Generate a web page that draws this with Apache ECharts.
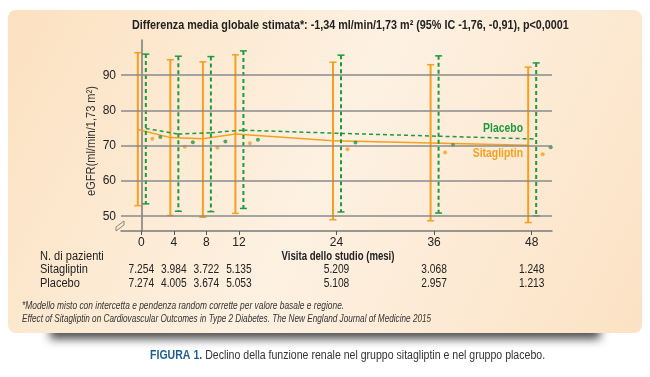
<!DOCTYPE html>
<html>
<head>
<meta charset="utf-8">
<script src="https://cdn.jsdelivr.net/npm/echarts@6/dist/echarts.min.js"></script>
<style>
  html, body { margin: 0; padding: 0; background: #fff; }
  #chart { width: 650px; height: 377px; }
</style>
</head>
<body>
<div id="chart"></div>
<script>
// mesi di visita
const months = [0, 4, 8, 12, 24, 36, 48]
const yTicks = [50, 60, 70, 80, 90]

// Sitagliptin: media stimata, intervallo, valori osservati
const sitaMean = [74.6, 72.3, 72.0, 73.3, 71.4, 70.8, 70.1]
const sitaHigh = [96.4, 94.4, 93.8, 95.8, 93.7, 93.0, 92.3]
const sitaLow = [53.0, 50.2, 49.7, 50.8, 49.0, 48.7, 48.2]
const sitaObs = [72.0, 69.7, 69.4, 70.7, 69.0, 68.1, 67.6]

// Placebo
const placMean = [74.9, 73.3, 73.7, 74.4, 73.5, 72.7, 71.9]
const placHigh = [96.0, 95.4, 95.3, 96.9, 95.7, 95.5, 93.5]
const placLow = [53.5, 51.4, 51.3, 52.2, 51.2, 50.9, 50.1]
const placObs = [72.5, 71.0, 71.2, 71.7, 70.9, 70.2, 69.6]

// N. di pazienti
const sitaN = ['7.254', '3.984', '3.722', '5.135', '5.209', '3.068', '1.248']
const placN = ['7.274', '4.005', '3.674', '5.053', '5.108', '2.957', '1.213']

const ORANGE = '#f5a01e'
const GREEN = '#1e9a3e'
const FONT = '"Liberation Sans", Arial, sans-serif'

const chart = echarts.init(document.getElementById('chart'))

// testo "condensato": font normale schiacciato in orizzontale
function ct(text, x, y, o) {
  o = o || {}
  return {
    type: 'text',
    z: 10,
    x: x,
    y: y,
    rotation: o.rotation || 0,
    scaleX: o.scale || 0.8,
    style: {
      x: 0, y: 0,
      text: text,
      fontFamily: FONT,
      fontSize: o.size || 12,
      fontWeight: o.bold ? 'bold' : 'normal',
      fontStyle: o.italic ? 'italic' : 'normal',
      fill: o.color || '#222',
      align: o.align || 'left',
      verticalAlign: 'middle',
      rich: o.rich
    }
  }
}

// barre d'errore + linea della media (spostate di qualche px rispetto al tick)
function errBars(color, dash, offset, means) {
  return function (params, api) {
    const i = params.dataIndex
    const m = api.value(0)
    const top = api.coord([m, api.value(2)])
    const bot = api.coord([m, api.value(1)])
    const x = top[0] + offset
    const style = { stroke: color, lineWidth: 2, lineDash: dash }
    const kids = [
      { type: 'line', shape: { x1: x, y1: top[1], x2: x, y2: bot[1] }, style: style },
      { type: 'line', shape: { x1: x - 3.5, y1: top[1], x2: x + 3.5, y2: top[1] }, style: { stroke: color, lineWidth: 1.5 } },
      { type: 'line', shape: { x1: x - 3.5, y1: bot[1], x2: x + 3.5, y2: bot[1] }, style: { stroke: color, lineWidth: 1.5 } }
    ]
    if (i < months.length - 1) {
      const a = api.coord([m, means[i]])
      const b = api.coord([months[i + 1], means[i + 1]])
      kids.push({
        type: 'line',
        shape: { x1: a[0] + offset, y1: a[1], x2: b[0] + offset, y2: b[1] },
        style: { stroke: color, lineWidth: 1.5, lineDash: dash }
      })
    }
    return { type: 'group', children: kids }
  }
}

const option = {
  backgroundColor: '#ffffff',
  animation: false,
  grid: { left: 121, right: 98, top: 40, bottom: 146 },
  xAxis: {
    type: 'value',
    min: -2.5,
    max: 50.5,
    axisLine: { show: true, lineStyle: { color: '#7a7a7a', width: 1.5 } },
    axisTick: { show: true, customValues: months, length: 4, lineStyle: { color: '#555' } },
    axisLabel: { customValues: months, fontFamily: FONT, fontSize: 12, color: '#222', margin: 6 },
    splitLine: { show: false }
  },
  yAxis: {
    type: 'value',
    min: 45.8,
    max: 100,
    axisLine: { show: true, lineStyle: { color: '#7a7a7a', width: 1.5 } },
    axisTick: { show: false },
    axisLabel: { customValues: yTicks, fontFamily: FONT, fontSize: 12, color: '#222', margin: 5 },
    splitLine: { show: false }
  },
  series: [
    {
      type: 'scatter',
      name: 'Sitagliptin oss.',
      data: months.map((m, i) => [m, sitaObs[i]]),
      symbolSize: 4,
      symbolOffset: [11, 0],
      itemStyle: { color: ORANGE },
      z: 4,
      markLine: {
        silent: true,
        symbol: ['none', 'none'],
        label: { show: false },
        lineStyle: { color: '#8a8a8a', width: 1.5, type: 'solid' },
        data: yTicks.map(v => ({ yAxis: v }))
      }
    },
    {
      type: 'scatter',
      name: 'Placebo oss.',
      data: months.map((m, i) => [m, placObs[i]]),
      symbolSize: 4,
      symbolOffset: [19, 0],
      itemStyle: { color: GREEN },
      z: 4
    },
    {
      type: 'custom',
      name: 'Sitagliptin',
      renderItem: errBars(ORANGE, null, -3.5, sitaMean),
      data: months.map((m, i) => [m, sitaLow[i], sitaHigh[i]]),
      z: 3
    },
    {
      type: 'custom',
      name: 'Placebo',
      renderItem: errBars(GREEN, [4, 3], 4.5, placMean),
      data: months.map((m, i) => [m, placLow[i], placHigh[i]]),
      z: 3
    },
    {
      // numeri di pazienti sotto l'asse
      type: 'custom',
      name: 'N',
      silent: true,
      renderItem: function (params, api) {
        const i = params.dataIndex
        const x = api.coord([api.value(0), 50])[0]
        return {
          type: 'group',
          children: [
            ct(sitaN[i], x, 270, { align: 'center', scale: 0.85 }),
            ct(placN[i], x, 284, { align: 'center', scale: 0.85 })
          ]
        }
      },
      data: months.map(m => [m]),
      z: 3
    }
  ],
  graphic: [
    {
      type: 'rect',
      z: -20,
      shape: { x: 50, y: 318, width: 550, height: 15 },
      style: { fill: '#666', shadowBlur: 10, shadowOffsetY: 6, shadowColor: 'rgba(0,0,0,0.7)' }
    },
    {
      type: 'rect',
      z: -10,
      shape: { x: 8, y: 10, width: 634, height: 323, r: 8 },
      style: {
        fill: new echarts.graphic.LinearGradient(0, 0, 1, 1, [
          { offset: 0, color: '#fce1c0' },
          { offset: 0.5, color: '#fdf1e2' },
          { offset: 1, color: '#fce2c4' }
        ])
      }
    },
    {
      // interruzione dell'asse y
      type: 'polygon',
      z: 10,
      shape: { points: [[116, 227], [124, 221], [124, 225], [116, 231]] },
      style: { fill: '#fce6ca', stroke: '#888', lineWidth: 1 }
    },
    ct('Differenza media globale stimata*: -1,34 ml/min/1,73 m² (95% IC -1,76, -0,91), p<0,0001', 132, 25, { size: 13, bold: true, scale: 0.83 }),
    ct('eGFR(ml/min/1,73 m²)', 92, 141, { rotation: Math.PI / 2, align: 'center', size: 12, scale: 0.92, color: '#333' }),
    ct('Visita dello studio (mesi)', 338, 257, { align: 'center', bold: true, size: 12, scale: 0.8 }),
    ct('Placebo', 523, 128, { align: 'right', bold: true, size: 13, scale: 0.8, color: GREEN }),
    ct('Sitagliptin', 523, 153, { align: 'right', bold: true, size: 13, scale: 0.8, color: ORANGE }),
    ct('N. di pazienti', 40, 257, { scale: 0.92 }),
    ct('Sitagliptin', 40, 270, { scale: 0.92 }),
    ct('Placebo', 40, 284, { scale: 0.92 }),
    ct('*Modello misto con intercetta e pendenza random corrette per valore basale e regione.', 22, 306, { italic: true, size: 10.5, scale: 0.8, color: '#333' }),
    ct('Effect of Sitagliptin on Cardiovascular Outcomes in Type 2 Diabetes. The New England Journal of Medicine 2015', 22, 319, { italic: true, size: 10.5, scale: 0.78, color: '#333' }),
    ct('{b|FIGURA 1.} Declino della funzione renale nel gruppo sitagliptin e nel gruppo placebo.', 150, 356, {
      size: 12, scale: 0.88, color: '#333',
      rich: { b: { fontFamily: FONT, fontSize: 12, fontWeight: 'bold', fill: '#1d5e92' } }
    })
  ]
}

chart.setOption(option)
</script>
</body>
</html>
